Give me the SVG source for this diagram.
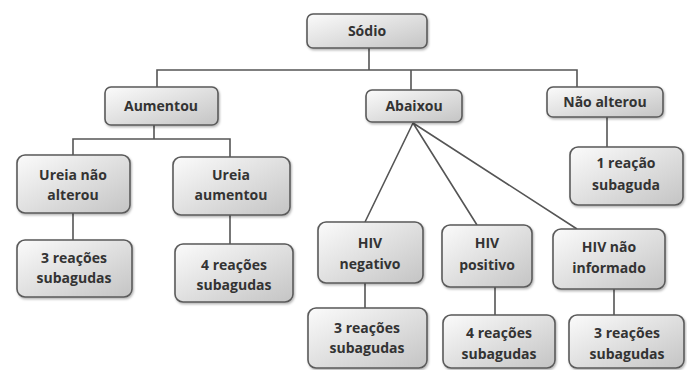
<svg xmlns="http://www.w3.org/2000/svg" width="687" height="370" viewBox="0 0 687 370">
<defs>
<linearGradient id="g" x1="0" y1="0" x2="1" y2="1">
<stop offset="0" stop-color="#fbfbfb"/>
<stop offset="1" stop-color="#c4c4c4"/>
</linearGradient>
<filter id="sh" x="-10%" y="-10%" width="130%" height="130%">
<feDropShadow dx="1" dy="1.5" stdDeviation="1" flood-color="#000" flood-opacity="0.3"/>
</filter>
<style>
.box{fill:url(#g);stroke:#5a5a5a;stroke-width:1.6;filter:url(#sh)}
.t{font-family:"Open Sans","Liberation Sans",sans-serif;font-weight:bold;font-size:14px;fill:#333;text-anchor:middle}
.c{fill:none;stroke:#555;stroke-width:1.6}
</style>
</defs>
<rect width="687" height="370" fill="#fff"/>
<g id="connectors">
<path class="c" d="M369 48V70M157 87V70H577V87M411 70V90"/>
<path class="c" d="M154 125V139M73 155V139H230V157"/>
<path class="c" d="M73 213V240M230 215V244"/>
<path class="c" d="M413 123L365 222M413 123L477 225M413 123L577 229"/>
<path class="c" d="M607 117V147"/>
<path class="c" d="M365 283V308M495 287V315M614 289V315"/>
</g>
<g id="sodio"><rect class="box" x="307" y="14" width="120" height="34" rx="6"/><text class="t" x="367" y="36">Sódio</text></g>
<g id="aumentou"><rect class="box" x="105" y="87" width="113" height="38" rx="6"/><text class="t" x="161" y="111">Aumentou</text></g>
<g id="abaixou"><rect class="box" x="366" y="90" width="96" height="32" rx="6"/><text class="t" x="414" y="111">Abaixou</text></g>
<g id="nao-alterou"><rect class="box" x="547" y="87" width="116" height="30" rx="6"/><text class="t" x="605" y="107">Não alterou</text></g>
<g id="ureia-nao-alterou"><rect class="box" x="17" y="155" width="113" height="58" rx="8"/><text class="t" x="73" y="180">Ureia não</text><text class="t" x="73" y="200">alterou</text></g>
<g id="ureia-aumentou"><rect class="box" x="173" y="157" width="117" height="58" rx="8"/><text class="t" x="231" y="180">Ureia</text><text class="t" x="231" y="200">aumentou</text></g>
<g id="r3a"><rect class="box" x="17" y="240" width="115" height="57" rx="8"/><text class="t" x="74" y="263">3 reações</text><text class="t" x="74" y="283">subagudas</text></g>
<g id="r4a"><rect class="box" x="175" y="244" width="118" height="58" rx="8"/><text class="t" x="234" y="270">4 reações</text><text class="t" x="234" y="290">subagudas</text></g>
<g id="r1"><rect class="box" x="570" y="147" width="113" height="58" rx="8"/><text class="t" x="626" y="168">1 reação</text><text class="t" x="626" y="190">subaguda</text></g>
<g id="hiv-neg"><rect class="box" x="318" y="222" width="105" height="61" rx="8"/><text class="t" x="370" y="248">HIV</text><text class="t" x="370" y="269">negativo</text></g>
<g id="hiv-pos"><rect class="box" x="442" y="225" width="90" height="62" rx="8"/><text class="t" x="487" y="248">HIV</text><text class="t" x="487" y="270">positivo</text></g>
<g id="hiv-ni"><rect class="box" x="553" y="229" width="112" height="60" rx="8"/><text class="t" x="609" y="252">HIV não</text><text class="t" x="609" y="273">informado</text></g>
<g id="r3b"><rect class="box" x="308" y="308" width="119" height="60" rx="8"/><text class="t" x="367" y="333">3 reações</text><text class="t" x="367" y="353">subagudas</text></g>
<g id="r4b"><rect class="box" x="443" y="315" width="112" height="53" rx="8"/><text class="t" x="499" y="338">4 reações</text><text class="t" x="499" y="359">subagudas</text></g>
<g id="r3c"><rect class="box" x="569" y="315" width="115" height="53" rx="8"/><text class="t" x="627" y="338">3 reações</text><text class="t" x="627" y="359">subagudas</text></g>
</svg>
